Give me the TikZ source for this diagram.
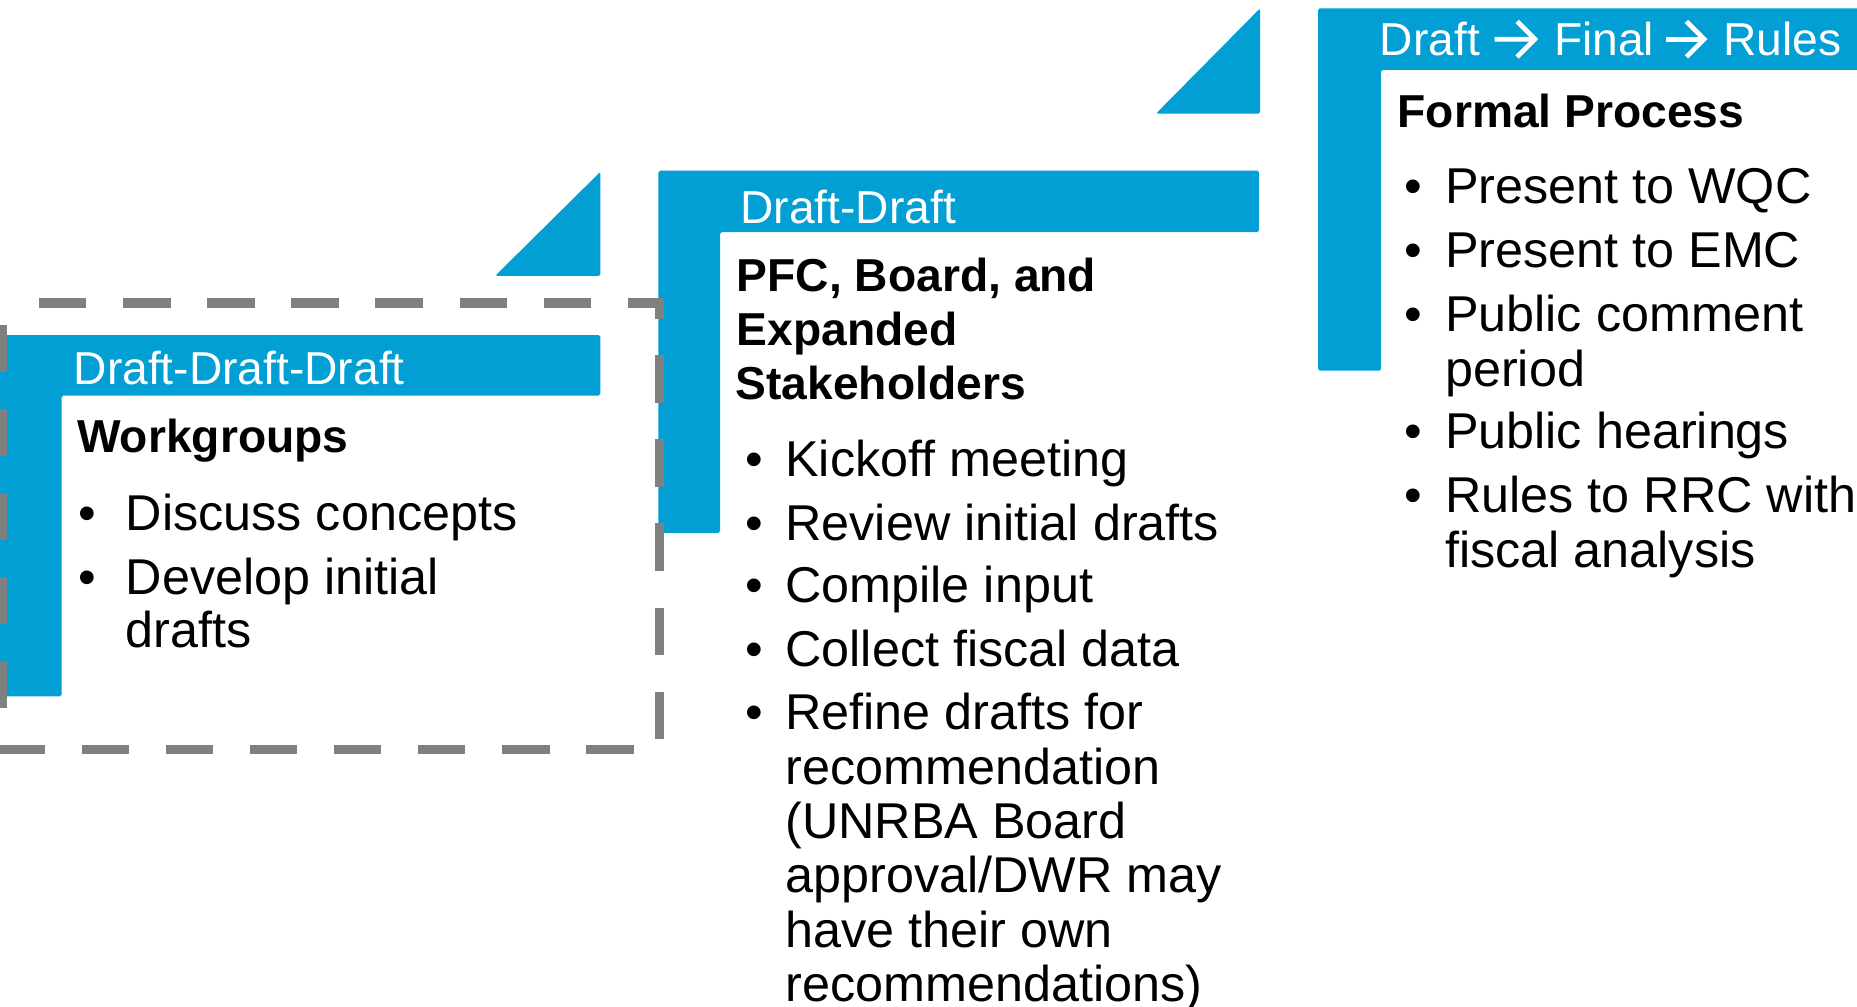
\documentclass[tikz,border=0pt]{standalone}
\usepackage{fontspec}
\setmainfont{Liberation Sans}
\usetikzlibrary{calc}
\definecolor{blu}{RGB}{1,159,211}
\definecolor{dgray}{RGB}{128,128,128}
\newcommand\mybul[2]{\makebox[#1][l]{\textbullet}#2}
\begin{document}
\begin{tikzpicture}[x=1pt,y=-1pt,
  bar/.style={fill=blu, draw=none, rounded corners=1.5pt},
  hdr/.style={anchor=base west, inner sep=0, text=white, font=\fontsize{39}{46}\selectfont},
  ttl/.style={anchor=base west, inner sep=0, font=\bfseries\fontsize{39}{46}\selectfont},
  txt/.style={anchor=base west, inner sep=0, font=\fontsize{42.5}{46}\selectfont},
  harrow/.style={draw=white, line width=4pt, line join=miter, line cap=butt},
  dashbox/.style={draw=dgray, line width=8pt, dash pattern=on 40pt off 31pt, dash phase=40pt}
]
\useasboundingbox (0,0) rectangle (1568,850);

% L-shaped bars
\fill[bar] (-6,283) -- (507,283) -- (507,334) -- (52,334) -- (52,588) -- (-6,588) -- cycle;
\fill[bar] (556,144) -- (1063,144) -- (1063,196) -- (608,196) -- (608,450) -- (556,450) -- cycle;
\fill[bar] (1113,7) -- (1580,7) -- (1580,59) -- (1166,59) -- (1166,313) -- (1113,313) -- cycle;

% triangles
\fill[bar] (418,233) -- (507,233) -- (507,145) -- cycle;
\fill[bar] (976,96) -- (1064,96) -- (1064,7) -- cycle;

% dashed box
\draw[dashbox] (2,256) -- (557,256) -- (557,633) -- (2,633) -- cycle;

% Box 1
\node[hdr] (h1) at (62,325) {Draft-Draft-Draft};
\node[ttl] (t1) at (65,382) {Workgroups};
\node[txt] (a1) at (66,448) {\mybul{40pt}{Discuss concepts}};
\node[txt] (a2) at (66,502) {\mybul{40pt}{Develop initial}};
\node[txt] (a3) at (106,547) {drafts};

% Box 2
\node[hdr] (h2) at (625,189) {Draft-Draft};
\node[ttl] (t2a) at (622,246) {PFC, Board, and};
\node[ttl] (t2b) at (622,292) {Expanded};
\node[ttl] (t2c) at (621,337) {Stakeholders};
\node[txt] (b1) at (629,402) {\mybul{34pt}{Kickoff meeting}};
\node[txt] (b2) at (629,456) {\mybul{34pt}{Review initial drafts}};
\node[txt] (b3) at (629,509) {\mybul{34pt}{Compile input}};
\node[txt] (b4) at (629,563) {\mybul{34pt}{Collect fiscal data}};
\node[txt] (b5) at (629,616) {\mybul{34pt}{Refine drafts for}};
\node[txt] (b6) at (663,662) {recommendation};
\node[txt] (b7) at (663,708) {(UNRBA Board};
\node[txt] (b8) at (663,754) {approval/DWR may};
\node[txt] (b9) at (663,800) {have their own};
\node[txt] (b10) at (663,846) {recommendations)};

% Box 3
\node[hdr] (h3a) at (1165,47) {Draft};
\node[hdr] (h3b) at (1312,47) {Final};
\node[hdr] (h3c) at (1455,47) {Rules};
\coordinate (ar1s) at ([xshift=12pt]h3a.east);
\coordinate (ar1e) at ([xshift=-16pt]h3b.west);
\coordinate (ar2s) at ([xshift=10pt]h3b.east);
\coordinate (ar2e) at ([xshift=-16pt]h3c.west);
\draw[harrow] (ar1s) -- (ar1e);
\draw[harrow] ($(ar1e)+(-15,-15)$) -- (ar1e) -- ($(ar1e)+(-15,15)$);
\draw[harrow] (ar2s) -- (ar2e);
\draw[harrow] ($(ar2e)+(-15,-15)$) -- (ar2e) -- ($(ar2e)+(-15,15)$);
\node[ttl] (t3) at (1180,108) {Formal Process};
\node[txt] (c1) at (1186,172) {\mybul{34pt}{Present to WQC}};
\node[txt] (c2) at (1186,226) {\mybul{34pt}{Present to EMC}};
\node[txt] (c3) at (1186,280) {\mybul{34pt}{Public comment}};
\node[txt] (c4) at (1220,326) {period};
\node[txt] (c5) at (1186,379) {\mybul{34pt}{Public hearings}};
\node[txt] (c6) at (1186,433) {\mybul{34pt}{Rules to RRC with}};
\node[txt] (c7) at (1220,479) {fiscal analysis};
\end{tikzpicture}
\end{document}
